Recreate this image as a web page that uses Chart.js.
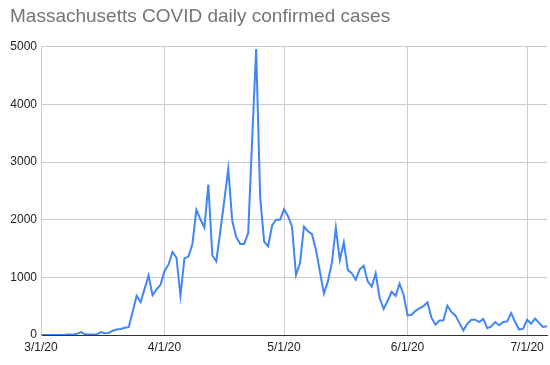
<!DOCTYPE html>
<html>
<head>
<meta charset="utf-8">
<script src="https://cdn.jsdelivr.net/npm/chart.js@4"></script>
<style>
  body { margin: 0; background: #fff; }
  #wrap { width: 550px; height: 365px; }
</style>
</head>
<body>
<div id="wrap"><canvas id="casesChart"></canvas></div>
<script>
// ==========================================
// MASSACHUSETTS DAILY CASES - DATA
// ==========================================

const startDate = "2020-03-01";

const tickLabels = ["3/1/20", "4/1/20", "5/1/20", "6/1/20", "7/1/20"];

// daily confirmed cases, 3/1/20 .. 7/6/20
const dailyCases = [
    0, 1, 0, 0, 1, 2, 3, 8, 5, 20,
    50, 15, 8, 10, 8, 50, 30, 35, 75, 95,
    105, 125, 135, 400, 680, 570, 800, 1030, 690, 790,
    870, 1110, 1220, 1440, 1340, 680, 1330, 1360, 1580, 2170,
    2010, 1860, 2610, 1380, 1280, 1800, 2330, 2880, 1980, 1700,
    1580, 1580, 1770, 3400, 4960, 2400, 1620, 1540, 1900, 2000,
    2000, 2180, 2060, 1880, 1040, 1250, 1880, 1800, 1750, 1480,
    1100, 720, 930, 1250, 1860, 1300, 1610, 1130, 1070, 960,
    1140, 1200, 930, 840, 1070, 640, 450, 590, 750, 680,
    890, 700, 340, 350, 420, 460, 500, 570, 300, 180,
    250, 255, 510, 400, 340, 210, 80, 195, 265, 265,
    225, 280, 120, 150, 225, 170, 225, 235, 380, 225,
    95, 110, 265, 195, 285, 210, 140, 150
];

// one label per day, m/d/yy
const dayLabels = [];
const d0 = new Date(startDate + "T12:00:00");
for (let i = 0; i < dailyCases.length; i++) {
    const d = new Date(d0);
    d.setDate(d0.getDate() + i);
    dayLabels.push((d.getMonth() + 1) + "/" + d.getDate() + "/" + String(d.getFullYear()).slice(2));
}

// ==========================================
// CHART
// ==========================================

const casesCtx = document.getElementById("casesChart");

new Chart(casesCtx, {

    type: "line",

    data: {
        labels: dayLabels,
        datasets: [{
            label: "Daily confirmed cases",
            data: dailyCases,
            borderColor: "#4285f4",
            borderWidth: 2,
            pointRadius: 0,
            tension: 0,
            fill: false
        }]
    },

    options: {
        responsive: true,
        maintainAspectRatio: false,
        animation: false,
        layout: {
            padding: { left: 10, right: 3, top: 5, bottom: 0 }
        },
        plugins: {
            legend: { display: false },
            tooltip: { enabled: false },
            title: {
                display: true,
                text: "Massachusetts COVID daily confirmed cases",
                align: "start",
                color: "#757575",
                font: { family: "'Liberation Sans', Arial, sans-serif", size: 19, weight: "normal" },
                padding: { top: 0, bottom: 19 }
            }
        },
        scales: {
            x: {
                type: "category",
                offset: false,
                afterBuildTicks: (scale) => {
                    scale.ticks = scale.ticks.filter(t => tickLabels.includes(dayLabels[t.value]));
                },
                afterFit: (scale) => { scale.height = 30; },
                grid: {
                    color: "#cccccc",
                    drawTicks: false
                },
                border: { color: "#333333", width: 1 },
                ticks: {
                    autoSkip: false,
                    maxRotation: 0,
                    padding: 5,
                    color: "#222222",
                    font: { family: "'Liberation Sans', Arial, sans-serif", size: 12 }
                }
            },
            y: {
                min: 0,
                max: 5000,
                afterFit: (scale) => { scale.width = 31; },
                grid: {
                    color: (ctx) => ctx.tick && ctx.tick.value === 0 ? "#333333" : "#cccccc",
                    drawTicks: false
                },
                border: { color: "#cccccc", width: 1 },
                ticks: {
                    stepSize: 1000,
                    padding: 4,
                    color: "#222222",
                    font: { family: "'Liberation Sans', Arial, sans-serif", size: 12 },
                    callback: (value) => String(value)
                }
            }
        }
    }

});
</script>
</body>
</html>
